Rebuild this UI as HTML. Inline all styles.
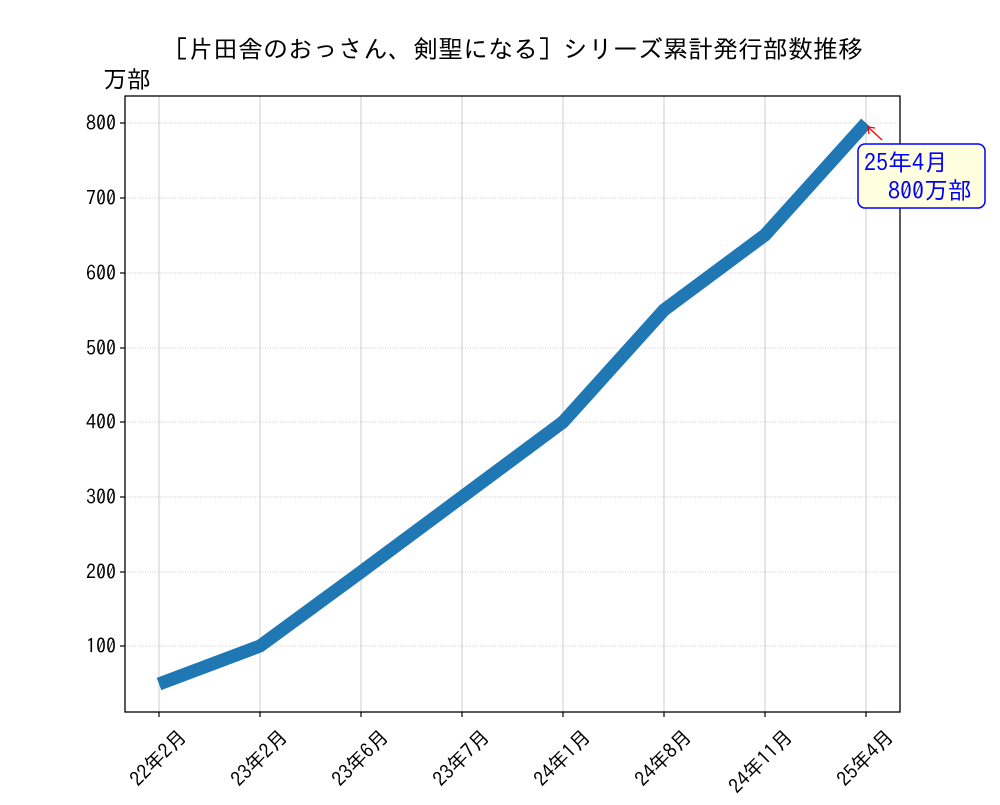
<!DOCTYPE html>
<html><head><meta charset="utf-8"><style>body{margin:0;background:#fff}</style></head><body>
<svg width="1000" height="800" xmlns="http://www.w3.org/2000/svg" font-family="IPAGothic, 'Liberation Mono', 'Noto Sans CJK JP', monospace">
<rect width="1000" height="800" fill="#fff"/>
<g stroke="#ccc" stroke-width="1">
<line x1="159" y1="96" x2="159" y2="712"/><line x1="260" y1="96" x2="260" y2="712"/><line x1="361" y1="96" x2="361" y2="712"/><line x1="462" y1="96" x2="462" y2="712"/><line x1="563" y1="96" x2="563" y2="712"/><line x1="664" y1="96" x2="664" y2="712"/><line x1="765" y1="96" x2="765" y2="712"/><line x1="866" y1="96" x2="866" y2="712"/>
</g>
<g stroke="#999" stroke-width="0.6" stroke-dasharray="1,1.5">
<line x1="125" y1="123" x2="900" y2="123"/><line x1="125" y1="198" x2="900" y2="198"/><line x1="125" y1="273" x2="900" y2="273"/><line x1="125" y1="348" x2="900" y2="348"/><line x1="125" y1="422" x2="900" y2="422"/><line x1="125" y1="497" x2="900" y2="497"/><line x1="125" y1="572" x2="900" y2="572"/><line x1="125" y1="646" x2="900" y2="646"/>
</g>
<polyline points="159,684 260,646 361,572 462,497 563,422 664,310 765,235 866,123" fill="none" stroke="#1f77b4" stroke-width="13" stroke-linejoin="miter"/>
<rect x="125" y="96" width="775" height="616" fill="none" stroke="#000" stroke-width="1.3"/>
<g stroke="#000" stroke-width="1.2">
<line x1="120" y1="123" x2="125" y2="123"/><line x1="120" y1="198" x2="125" y2="198"/><line x1="120" y1="273" x2="125" y2="273"/><line x1="120" y1="348" x2="125" y2="348"/><line x1="120" y1="422" x2="125" y2="422"/><line x1="120" y1="497" x2="125" y2="497"/><line x1="120" y1="572" x2="125" y2="572"/><line x1="120" y1="646" x2="125" y2="646"/>
<line x1="159" y1="712" x2="159" y2="717"/><line x1="260" y1="712" x2="260" y2="717"/><line x1="361" y1="712" x2="361" y2="717"/><line x1="462" y1="712" x2="462" y2="717"/><line x1="563" y1="712" x2="563" y2="717"/><line x1="664" y1="712" x2="664" y2="717"/><line x1="765" y1="712" x2="765" y2="717"/><line x1="866" y1="712" x2="866" y2="717"/>
</g>
<g font-size="20" text-anchor="end" fill="#000">
<text x="116" y="130">800</text><text x="116" y="205">700</text><text x="116" y="280">600</text><text x="116" y="355">500</text><text x="116" y="429">400</text><text x="116" y="504">300</text><text x="116" y="579">200</text><text x="116" y="653">100</text>
<text transform="translate(188,738) rotate(-45)">22年2月</text>
<text transform="translate(289,738) rotate(-45)">23年2月</text>
<text transform="translate(390,738) rotate(-45)">23年6月</text>
<text transform="translate(491,738) rotate(-45)">23年7月</text>
<text transform="translate(592,738) rotate(-45)">24年1月</text>
<text transform="translate(693,738) rotate(-45)">24年8月</text>
<text transform="translate(794,738) rotate(-45)">24年11月</text>
<text transform="translate(895,738) rotate(-45)">25年4月</text>
</g>
<text x="513" y="58" font-size="25" text-anchor="middle">［片田舎のおっさん、剣聖になる］シリーズ累計発行部数推移</text>
<text x="103" y="88" font-size="24">万部</text>
<line x1="882" y1="140" x2="869" y2="128" stroke="red" stroke-width="1.3"/>
<polyline points="869,134 868,127 875,128" fill="none" stroke="red" stroke-width="1.3"/>
<rect x="858" y="144" width="127" height="64" rx="7" fill="#ffffe0" stroke="#00f" stroke-width="1.5"/>
<g font-size="24" fill="#00f">
<text x="864" y="171">25年4月</text>
<text x="888" y="199">800万部</text>
</g>
</svg>
</body></html>
